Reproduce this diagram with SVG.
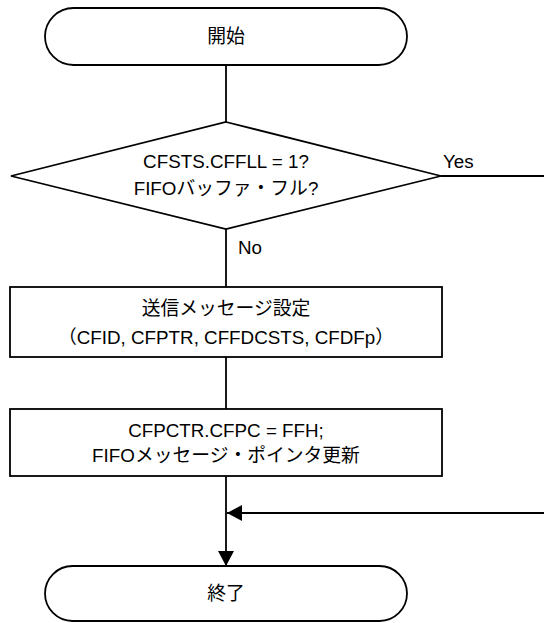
<svg xmlns="http://www.w3.org/2000/svg" width="544" height="623" viewBox="0 0 544 623">
  <style>
    .shape { fill: #ffffff; stroke: #000000; stroke-width: 1.8; }
    .line { fill: none; stroke: #000000; stroke-width: 1.8; }
    .t { font-family: "Liberation Sans", "Noto Sans CJK JP", Arial, sans-serif; font-size: 18.8px; fill: #000000; }
    .c { text-anchor: middle; }
  </style>
  <defs>
    <marker id="arrow" markerWidth="17" markerHeight="17" refX="15" refY="8" orient="auto" markerUnits="userSpaceOnUse">
      <path d="M0,0 L15,8 L0,16 Z" fill="#000000"/>
    </marker>
  </defs>

  <g id="connectors">
    <line class="line" x1="226" y1="65" x2="226" y2="122"/>
    <line class="line" x1="441" y1="176" x2="544" y2="176"/>
    <line class="line" x1="226" y1="229" x2="226" y2="287"/>
    <line class="line" x1="226" y1="357" x2="226" y2="409"/>
    <line class="line" x1="226" y1="476" x2="226" y2="566" marker-end="url(#arrow)"/>
    <line class="line" x1="544" y1="513" x2="227" y2="513" marker-end="url(#arrow)"/>
    <text class="t" x="443" y="168">Yes</text>
    <text class="t" x="238" y="254">No</text>
  </g>

  <g id="start">
    <rect class="shape" x="45" y="8" width="362" height="57" rx="28.5" ry="28.5"/>
    <text class="t c" x="226" y="43">開始</text>
  </g>

  <g id="decision">
    <polygon class="shape" points="226,122 441,176 226,229 11,176"/>
    <text class="t c" x="226" y="168">CFSTS.CFFLL = 1?</text>
    <text class="t c" x="226" y="195">FIFOバッファ・フル?</text>
  </g>

  <g id="setMessage">
    <rect class="shape" x="10" y="287" width="432" height="70"/>
    <text class="t c" x="226" y="315">送信メッセージ設定</text>
    <text class="t c" x="226" y="344">（CFID, CFPTR, CFFDCSTS, CFDFp）</text>
  </g>

  <g id="updatePointer">
    <rect class="shape" x="10" y="409" width="432" height="67"/>
    <text class="t c" x="226" y="437">CFPCTR.CFPC = FFH;</text>
    <text class="t c" x="226" y="462">FIFOメッセージ・ポインタ更新</text>
  </g>

  <g id="end">
    <rect class="shape" x="45" y="566" width="362" height="55" rx="27.5" ry="27.5"/>
    <text class="t c" x="226" y="600">終了</text>
  </g>
</svg>
